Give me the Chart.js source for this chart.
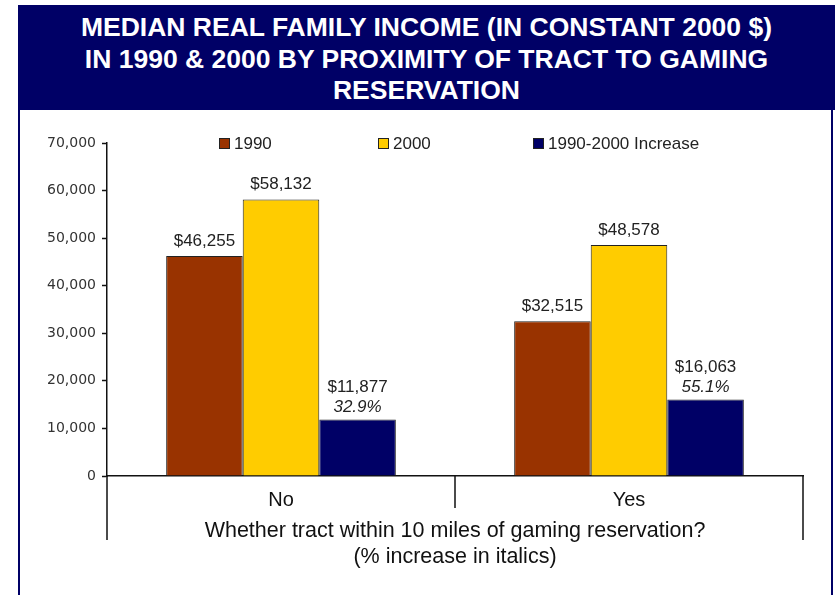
<!DOCTYPE html>
<html>
<head>
<meta charset="utf-8">
<script src="https://cdn.jsdelivr.net/npm/chart.js@4/dist/chart.umd.min.js"></script>
<style>
  body { margin: 0; background: #fff; width: 835px; height: 595px; overflow: hidden; position: relative; font-family: "Liberation Sans", Arial, sans-serif; }
  #head { position: absolute; left: 18px; top: 5px; width: 817px; height: 105px; background: #000066; color: #fff;
          font-weight: bold; font-size: 26.5px; line-height: 31.5px; text-align: center; padding-top: 7px; box-sizing: border-box; }
  #panel { position: absolute; left: 18px; top: 110px; width: 815px; height: 500px; border-left: 2px solid #000066; border-right: 2px solid #000066; box-sizing: border-box; }
  #wrap { position: absolute; left: 0; top: 0; width: 835px; height: 595px; }
  #legend { position: absolute; left: 219px; top: 134px; display: grid; grid-template-columns: 159px 155px auto; font-size: 17px; line-height: 20px; color: #222; }
  #legend span.box { display: inline-block; width: 9px; height: 9px; border: 1px solid #222; margin-right: 4px; vertical-align: 0px; }
</style>
</head>
<body>
<div id="head">MEDIAN REAL FAMILY INCOME (IN CONSTANT 2000 $)<br>IN 1990 &amp; 2000 BY PROXIMITY OF TRACT TO GAMING<br>RESERVATION</div>
<div id="panel"></div>
<div id="wrap"><canvas id="myChart" width="835" height="595"></canvas></div>
<div id="legend"></div>
<script>
// ===== data
var categories = ["No", "Yes"];
var income1990 = [46255, 32515];
var income2000 = [58132, 48578];
var increase = [11877, 16063];
var pctIncrease = ["32.9%", "55.1%"];
var yTicks = [0, 10000, 20000, 30000, 40000, 50000, 60000, 70000];
var seriesNames = ["1990", "2000", "1990-2000 Increase"];
var axisTitle = ["Whether tract within 10 miles of gaming reservation?", "(% increase in italics)"];

var money = function (v) { return "$" + v.toLocaleString("en-US"); };
var FONT = "'Liberation Sans', Arial, sans-serif";

// ===== labels above the bars
var barLabels = {
  id: "barLabels",
  afterDatasetsDraw: function (chart) {
    var ctx = chart.ctx;
    ctx.save();
    ctx.fillStyle = "#222";
    ctx.textAlign = "center";
    ctx.textBaseline = "middle";
    chart.data.datasets.forEach(function (ds, di) {
      chart.getDatasetMeta(di).data.forEach(function (bar, i) {
        ctx.font = "17px " + FONT;
        if (di === 2) {
          ctx.fillText(money(ds.data[i]), bar.x, bar.y - 32);
          ctx.font = "italic 17px " + FONT;
          ctx.fillText(pctIncrease[i], bar.x, bar.y - 12);
        } else {
          ctx.fillText(money(ds.data[i]), bar.x, bar.y - 15);
        }
      });
    });
    ctx.restore();
  }
};

// ===== category divider lines under the x axis
var catLines = {
  id: "catLines",
  afterDraw: function (chart) {
    var ctx = chart.ctx, x = chart.scales.x, area = chart.chartArea;
    ctx.save();
    ctx.strokeStyle = "#111";
    ctx.lineWidth = 1.5;
    ctx.beginPath();
    ctx.moveTo(area.left, area.bottom); ctx.lineTo(area.left, area.bottom + 64);
    ctx.moveTo(area.right, area.bottom); ctx.lineTo(area.right, area.bottom + 64);
    for (var i = 0; i < categories.length - 1; i++) {
      var mid = (x.getPixelForTick(i) + x.getPixelForTick(i + 1)) / 2;
      ctx.moveTo(mid, area.bottom); ctx.lineTo(mid, area.bottom + 32);
    }
    ctx.stroke();
    ctx.restore();
  }
};

var ctx = document.getElementById("myChart").getContext("2d");
var myChart = new Chart(ctx, {
  type: "bar",
  data: {
    labels: categories,
    datasets: [
      { label: seriesNames[0], data: income1990, backgroundColor: "#993300" },
      { label: seriesNames[1], data: income2000, backgroundColor: "#FFCC00" },
      { label: seriesNames[2], data: increase, backgroundColor: "#000066" }
    ]
  },
  options: {
    responsive: false,
    animation: false,
    layout: { padding: { left: 0, top: 143, right: 32, bottom: 0 } },
    datasets: { bar: { categoryPercentage: 0.66, barPercentage: 1, borderWidth: 1, borderColor: "#222" } },
    plugins: { legend: { display: false }, tooltip: { enabled: false } },
    scales: {
      x: {
        grid: { display: false, drawTicks: false },
        border: { display: true, color: "#111", width: 1.5 },
        ticks: { color: "#111", padding: 12, font: { size: 20, family: FONT } },
        title: {
          display: true, text: axisTitle, color: "#111",
          font: { size: 21.5, lineHeight: 1.21, family: FONT },
          padding: { top: 0, bottom: 25 }
        },
        afterFit: function (s) { s.height = 119; }
      },
      y: {
        min: 0, max: 70000,
        afterBuildTicks: function (s) { s.ticks = yTicks.map(function (v) { return { value: v }; }); },
        grid: { drawOnChartArea: false, tickLength: 5, color: "#111", tickWidth: 1.5 },
        border: { display: true, color: "#111", width: 1.5 },
        ticks: { color: "#333", padding: 6, font: { size: 14, family: "'DejaVu Sans', sans-serif" },
                 callback: function (v) { return v.toLocaleString("en-US"); } },
        afterFit: function (s) { s.width = 107; }
      }
    }
  },
  plugins: [barLabels, catLines]
});

// ===== html legend built from the datasets
var leg = document.getElementById("legend");
myChart.data.datasets.forEach(function (ds) {
  var item = document.createElement("div");
  item.innerHTML = '<span class="box" style="background:' + ds.backgroundColor + '"></span>' + ds.label;
  leg.appendChild(item);
});
</script>
</body>
</html>
